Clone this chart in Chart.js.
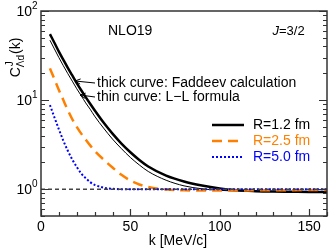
<!DOCTYPE html>
<html lang="en">

<head>
  <meta charset="UTF-8" />
  <title>Lambda-d correlation</title>
  <style>
    body {
      margin: 0;
      background: #fff;
    }

    #chart {
      display: block;
    }
  </style>
  <script src="https://cdn.jsdelivr.net/npm/chart.js"></script>
</head>

<body>
  <canvas id="chart" width="332" height="251"></canvas>
</body>

</html>
<script>
  // momentum grid k [MeV/c]
  const kGrid = [5, 7.5, 10, 12.5, 15, 17.5, 20, 22.5, 25, 27.5, 30, 35, 40, 45, 50, 55, 60, 70, 80, 90, 100, 110, 120, 130, 140, 150, 160]

  // R=1.2 fm, thick = Faddeev, thin = L-L formula
  const cFaddeev12 = [55, 44, 35, 28.3, 23, 18.9, 15.5, 12.9, 10.8, 9.1, 7.7, 5.6, 4.2, 3.25, 2.6, 2.13, 1.8, 1.42, 1.22, 1.1, 1.02, 0.97, 0.95, 0.94, 0.935, 0.93, 0.93]
  const cLL12 = [47, 37.5, 30, 24.3, 19.8, 16.3, 13.4, 11.2, 9.3, 7.9, 6.6, 4.85, 3.65, 2.85, 2.27, 1.87, 1.58, 1.26, 1.09, 1.01, 0.97, 0.955, 0.945, 0.94, 0.94, 0.94, 0.94]
  // R=2.5 fm
  const cFaddeev25 = [22.7, 17.2, 13, 10, 7.7, 6.1, 5.0, 4.2, 3.6, 3.1, 2.7, 2.15, 1.75, 1.45, 1.25, 1.13, 1.06, 0.99, 0.97, 0.965, 0.965, 0.967, 0.97, 0.972, 0.975, 0.978, 0.98]
  // R=5.0 fm
  const cFaddeev50 = [8.8, 6.4, 4.7, 3.5, 2.7, 2.15, 1.78, 1.5, 1.33, 1.2, 1.12, 1.04, 1.01, 1.0, 1.0, 1.0, 1.0, 1.0, 1.0, 1.0, 1.0, 1.0, 1.0, 1.0, 1.0, 1.0, 1.0]

  const xTicks = [0, 50, 100, 150]
  const yTicks = [1, 10, 100]
  const yExp = ['0', '1', '2']

  const legendItems = [
    { label: 'R=1.2 fm', color: '#000', dash: [], width: 2.5 },
    { label: 'R=2.5 fm', color: '#ff8000', dash: [10, 6], width: 2.5 },
    { label: 'R=5.0 fm', color: '#0000ff', dash: [2, 2], width: 2 }
  ]

  const font = '"Liberation Sans", Arial, sans-serif'

  function toPoints(vals) {
    return kGrid.map((k, i) => ({ x: k, y: vals[i] }))
  }

  function arrow(ctx, x1, y1, x2, y2) {
    ctx.beginPath()
    ctx.moveTo(x1, y1)
    ctx.lineTo(x2, y2)
    const ang = Math.atan2(y2 - y1, x2 - x1)
    ctx.moveTo(x2 - 6 * Math.cos(ang - 0.45), y2 - 6 * Math.sin(ang - 0.45))
    ctx.lineTo(x2, y2)
    ctx.lineTo(x2 - 6 * Math.cos(ang + 0.45), y2 - 6 * Math.sin(ang + 0.45))
    ctx.stroke()
  }

  const decor = {
    id: 'decor',
    afterDatasetsDraw(chart) {
      const { ctx, chartArea: a, scales: { x, y } } = chart
      ctx.save()

      // frame
      ctx.strokeStyle = '#333'
      ctx.lineWidth = 1.5
      ctx.strokeRect(a.left, a.top, a.width, a.height)

      // inward ticks
      ctx.lineWidth = 1.2
      ctx.beginPath()
      for (const d of [0.1, 1, 10, 100]) {
        for (let m = 1; m <= 9; m++) {
          const v = m * d
          if (v < 0.5 - 1e-9 || v > 100 + 1e-9) continue
          const py = Math.round(y.getPixelForValue(v)) + 0.5
          const len = m === 1 ? 8 : 4
          ctx.moveTo(a.left, py); ctx.lineTo(a.left + len, py)
          ctx.moveTo(a.right, py); ctx.lineTo(a.right - len, py)
        }
      }
      for (let v = 0; v <= 160; v += 10) {
        const px = Math.round(x.getPixelForValue(v)) + 0.5
        const len = v % 50 === 0 ? 7 : 4
        ctx.moveTo(px, a.bottom); ctx.lineTo(px, a.bottom - len)
      }
      ctx.stroke()

      // tick labels
      ctx.fillStyle = '#000'
      ctx.textBaseline = 'middle'
      ctx.textAlign = 'center'
      ctx.font = '14px ' + font
      xTicks.forEach(v => ctx.fillText(String(v), x.getPixelForValue(v), a.bottom + 11))
      yTicks.forEach((v, i) => {
        const py = y.getPixelForValue(v)
        ctx.font = '14px ' + font
        ctx.textAlign = 'right'
        ctx.fillText('10', a.left - 9, py + 1)
        ctx.font = '10px ' + font
        ctx.textAlign = 'left'
        ctx.fillText(yExp[i], a.left - 9, py - 5)
      })

      // axis titles
      ctx.font = '14px ' + font
      ctx.textAlign = 'center'
      ctx.fillText('k [MeV/c]', 178, 241)

      ctx.save()
      ctx.translate(16, 58)
      ctx.rotate(-Math.PI / 2)
      ctx.textAlign = 'left'
      const big = '14px ' + font, small = '10px ' + font
      ctx.font = big
      let w = ctx.measureText('C').width
      ctx.font = small
      const wSub = ctx.measureText('\u039Bd').width
      ctx.font = big
      const total = w + wSub + ctx.measureText('(k)').width
      let cx = -total / 2
      ctx.fillText('C', cx, 0)
      cx += w
      ctx.font = small
      ctx.fillText('J', cx + 1, -6)
      ctx.fillText('\u039Bd', cx, 5)
      cx += wSub + 1
      ctx.font = big
      ctx.fillText('(k)', cx, 0)
      ctx.restore()

      // annotations
      ctx.textAlign = 'left'
      ctx.font = '14px ' + font
      ctx.fillText('NLO19', 108, 31)
      ctx.textAlign = 'right'
      ctx.font = 'italic 13px ' + font
      ctx.fillText('J', 279, 31)
      ctx.font = '13px ' + font
      ctx.textAlign = 'left'
      ctx.fillText('=3/2', 279, 31)

      ctx.font = '14px ' + font
      ctx.fillText('thick curve: Faddeev calculation', 97, 83)
      ctx.fillText('thin curve: L\u2212L formula', 97, 97)
      ctx.strokeStyle = '#000'
      ctx.lineWidth = 1
      arrow(ctx, 95, 83, 75, 81)
      arrow(ctx, 95, 97, 80, 95)

      // legend
      legendItems.forEach((it, i) => {
        const ly = 125 + i * 16
        ctx.strokeStyle = it.color
        ctx.lineWidth = it.width
        ctx.setLineDash(it.dash)
        ctx.beginPath()
        ctx.moveTo(212, ly)
        ctx.lineTo(244, ly)
        ctx.stroke()
        ctx.setLineDash([])
        ctx.fillStyle = it.color
        ctx.fillText(it.label, 253, ly)
      })

      ctx.restore()
    }
  }

  const chart = new Chart(document.querySelector('#chart'), {
    type: 'line',
    data: {
      datasets: [{
        data: [{ x: 0, y: 1 }, { x: 160, y: 1 }],
        borderColor: '#444',
        borderWidth: 1.5,
        borderDash: [4, 3]
      }, {
        data: toPoints(cFaddeev50),
        borderColor: '#0000ff',
        borderWidth: 2,
        borderDash: [2, 2]
      }, {
        data: toPoints(cFaddeev25),
        borderColor: '#ff8000',
        borderWidth: 2.5,
        borderDash: [10, 6]
      }, {
        data: toPoints(cLL12),
        borderColor: '#000',
        borderWidth: 1
      }, {
        data: toPoints(cFaddeev12),
        borderColor: '#000',
        borderWidth: 2.5
      }]
    },
    options: {
      responsive: false,
      animation: false,
      layout: { padding: { left: 41, top: 11, right: 5, bottom: 35 } },
      elements: {
        point: { radius: 0 },
        line: { cubicInterpolationMode: 'monotone', fill: false }
      },
      plugins: { legend: { display: false }, tooltip: { enabled: false } },
      scales: {
        x: { type: 'linear', min: 0, max: 160, display: false },
        y: { type: 'logarithmic', min: 0.5, max: 100, display: false }
      }
    },
    plugins: [decor]
  })
</script>
